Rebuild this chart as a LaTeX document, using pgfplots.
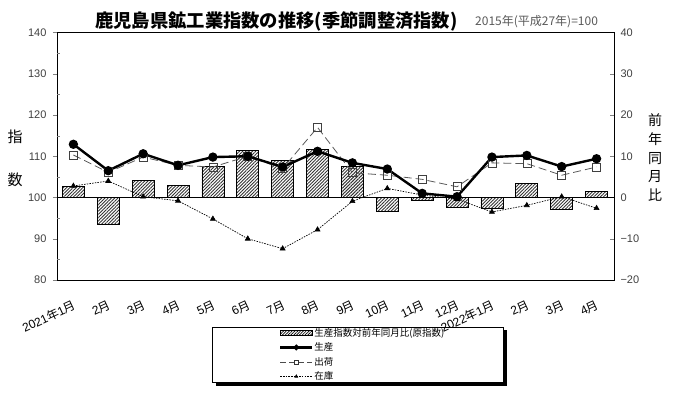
\documentclass[border=0pt]{standalone}
\usepackage{pgfplots}
\pgfplotsset{compat=1.18}
\usetikzlibrary{patterns.meta}
\usepackage{fontspec}
\setmainfont{Liberation Sans}
\newfontfamily\jp{Noto Sans CJK JP}
\newcommand\nen{{\jp 年}}
\newcommand\tsuki{{\jp 月}}

\pgfplotstableread{
x bar
0 2.6
1 -6.4
2 4.2
3 3.0
4 7.5
5 11.4
6 9.0
7 11.7
8 7.6
9 -3.4
10 -0.6
11 -2.3
12 -2.6
13 3.4
14 -2.8
15 1.5
}\bars

\pgfplotstableread{
x prod ship inv
0 112.9 110.3 102.8
1 106.5 106.1 104.0
2 110.6 109.8 100.2
3 107.8 107.8 99.2
4 109.8 107.4 94.8
5 110.0 110.0 90.0
6 107.4 107.0 87.6
7 111.2 117.0 92.2
8 108.4 106.0 99.1
9 106.9 105.4 102.2
10 101.0 104.4 100.6
11 100.2 102.6 99.6
12 109.8 108.4 96.5
13 110.2 108.2 98.1
14 107.5 105.4 100.2
15 109.4 107.4 97.4
}\lines

\begin{document}
\begin{tikzpicture}[x=1pt,y=1pt]
\useasboundingbox (0,0) rectangle (700,394);
% title
\node[font=\jp\bfseries\fontsize{18.3}{20}\selectfont, anchor=west, inner sep=0] at (95,373) {鹿児島県鉱工業指数の推移(季節調整済指数)};
\node[font=\jp\fontsize{12}{14}\selectfont, text=black!65, anchor=west, inner sep=0] at (475,372.5) {2015年(平成27年)=100};

% legend box with shadow
\fill[black] (215.5,8.5) rectangle (506.5,64);
\filldraw[fill=white, draw=black, line width=0.6pt] (212,12) rectangle (503,67);

% bars on right axis
\begin{axis}[at={(57pt,114pt)}, anchor=south west, scale only axis,
  width=557pt, height=247.5pt,
  xmin=-0.47, xmax=15.5, ymin=-20, ymax=40,
  hide x axis, axis y line*=right,
  ytick={-20,-10,...,40},
  yticklabels={−20,−10,0,10,20,30,40},
  tick align=inside, major tick length=4pt,
  yticklabel style={font=\fontsize{11}{12}\selectfont, text=black!75, xshift=3pt, /pgf/number format/assume math mode=true},
  ybar, bar width=22pt,
  y axis line style={black, line width=0.6pt},
  ylabel={\jp 前\\年\\同\\月\\比},
  ylabel style={rotate=-90, at={(axis description cs:1.0736,0.495)}, anchor=center, align=center, font=\jp\fontsize{14}{18.7}\selectfont},
]
\addplot[draw=black, line width=0.8pt, pattern={Lines[angle=45,distance=2.3pt,line width=0.9pt]}, pattern color=black!80] table[x=x,y=bar] {\bars};
\end{axis}

% index lines on left axis
\begin{axis}[at={(57pt,114pt)}, anchor=south west, scale only axis,
  width=557pt, height=247.5pt,
  xmin=-0.47, xmax=15.5, ymin=80, ymax=140,
  axis line style={black, line width=0.6pt},
  ytick pos=left,
  ytick={80,90,...,140},
  tick align=outside, major tick length=4pt,
  extra y ticks={85,95,...,135}, extra y tick labels={},
  extra y tick style={tick align=inside, major tick length=3pt},
  yticklabel style={font=\fontsize{11}{12}\selectfont, text=black!75, xshift=-3pt, /pgf/number format/assume math mode=true},
  xtick={0,...,15},
  xticklabels={2021\nen1\tsuki,2\tsuki,3\tsuki,4\tsuki,5\tsuki,6\tsuki,7\tsuki,8\tsuki,9\tsuki,10\tsuki,11\tsuki,12\tsuki,2022\nen1\tsuki,2\tsuki,3\tsuki,4\tsuki},
  xtick style={draw=none},
  xticklabel style={font=\fontsize{12}{13}\selectfont, rotate=25, anchor=east, inner sep=0pt, yshift=-19pt, xshift=-7pt, /pgf/number format/assume math mode=true},
  ylabel={指\\数},
  ylabel style={rotate=-90, at={(axis description cs:-0.0754,0.491)}, anchor=center, align=center, font=\jp\fontsize{15}{43}\selectfont},
  legend image code/.code={\draw[mark repeat=2,mark phase=2,#1] plot coordinates {(0pt,0pt) (16pt,0pt) (32pt,0pt)};},
  legend style={at={(axis description cs:0.3932,-0.1818)}, anchor=north west, draw=none, fill=none,
     font=\jp\fontsize{9.5}{10}\selectfont, row sep=3pt, nodes={inner sep=1pt}},
  legend cell align=left,
]
\addlegendimage{legend image code/.code={\draw[draw=black, line width=0.5pt, pattern={Lines[angle=45,distance=2pt,line width=0.7pt]}] (0pt,-2.5pt) rectangle (32pt,2.5pt);}}
\addlegendentry{生産指数対前年同月比(原指数)}
\addlegendimage{black, line width=2.2pt, mark=*, mark size=1.6pt}
\addlegendentry{生産}
\addlegendimage{black!70, line width=0.7pt, dash pattern=on 6pt off 3pt, mark=square, mark size=2pt, mark options={solid, fill=white, draw=black!80}}
\addlegendentry{出荷}
\addlegendimage{black, line width=0.6pt, dash pattern=on 1.5pt off 1.2pt, mark=triangle*, mark size=1.6pt, mark options={solid}}
\addlegendentry{在庫}

\addplot[black, line width=0.7pt, forget plot] coordinates {(-0.47,100) (15.5,100)};
\addplot[black, line width=0.7pt, dash pattern=on 1.5pt off 1.2pt, mark=triangle*, mark size=2.8pt, mark options={solid}, forget plot] table[x=x,y=inv] {\lines};
\addplot[black!65, line width=0.8pt, dash pattern=on 8pt off 4pt, mark=square, mark size=4pt, mark options={solid, fill=white, draw=black!75, line width=0.6pt}, forget plot] table[x=x,y=ship] {\lines};
\addplot[black, line width=2.4pt, mark=*, mark size=3.4pt, forget plot] table[x=x,y=prod] {\lines};
\end{axis}
\end{tikzpicture}
\end{document}
